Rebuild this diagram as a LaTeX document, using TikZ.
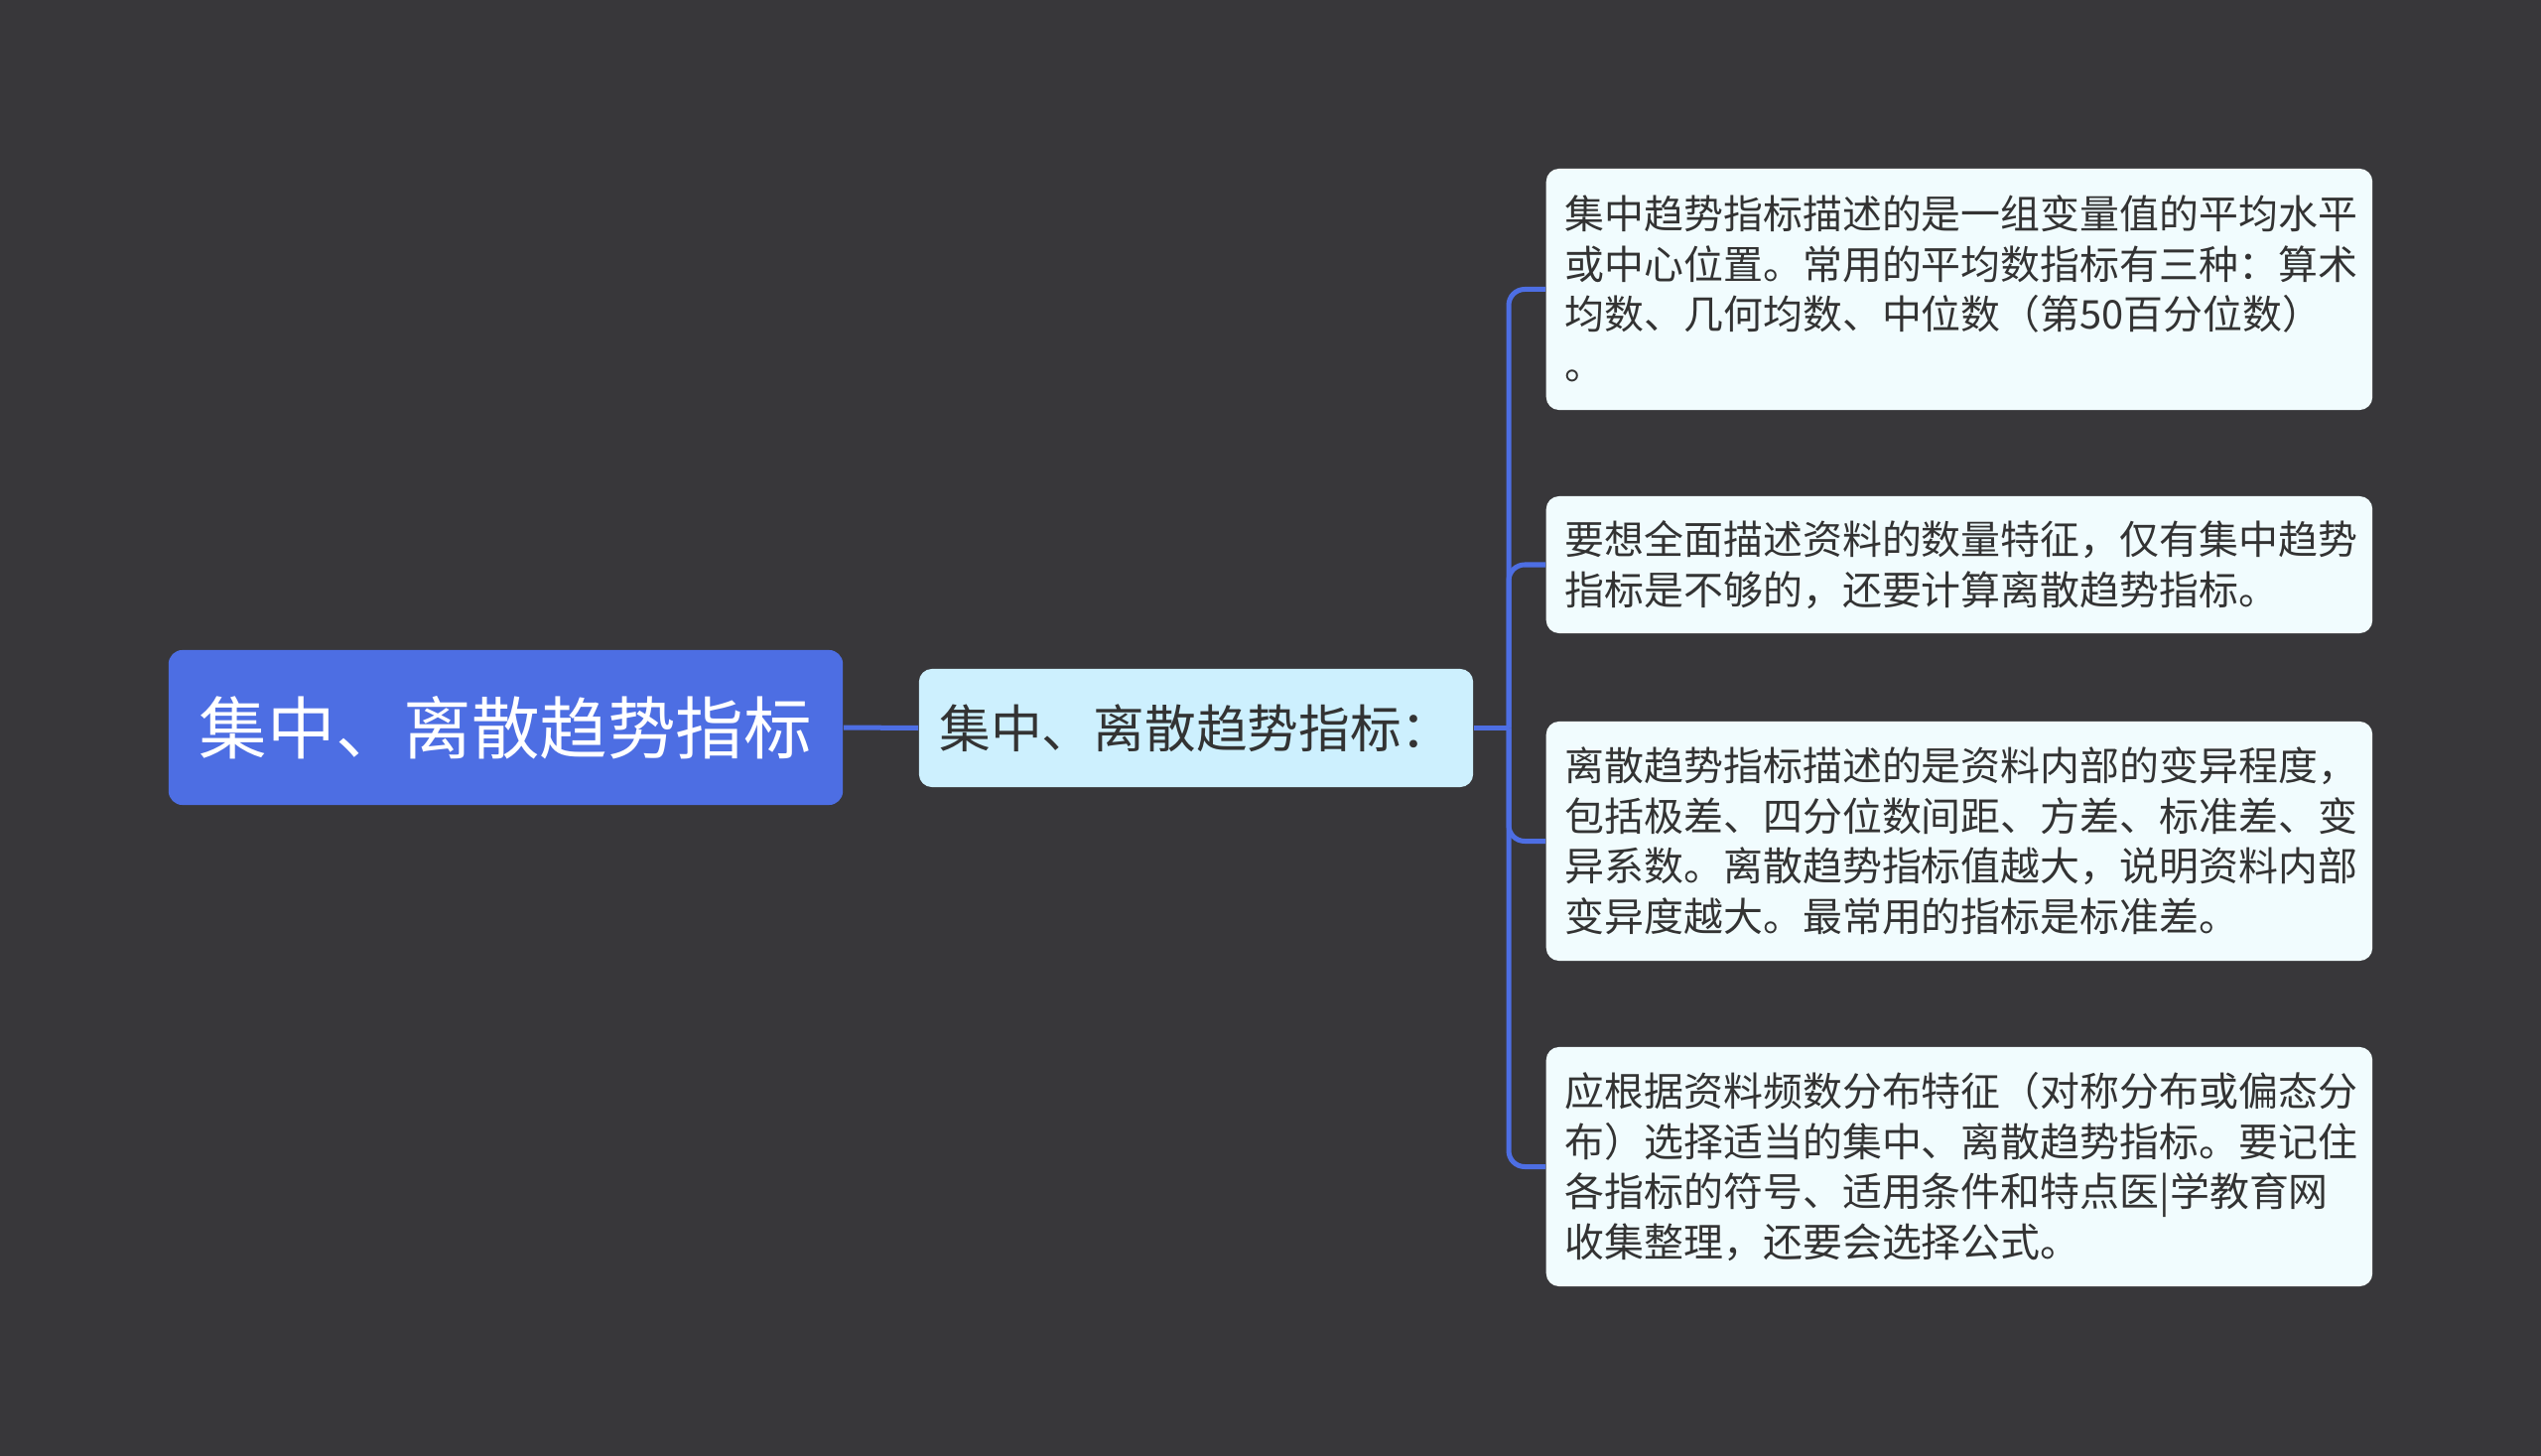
\documentclass[tikz,border=0pt]{standalone}
\usepackage{fontspec}
\setmainfont{Noto Sans CJK SC}
\definecolor{bgc}{HTML}{38373A}
\definecolor{rootblue}{HTML}{4D6EE3}
\definecolor{midfill}{HTML}{CDF0FE}
\definecolor{leaffill}{HTML}{F1FCFE}
\definecolor{linec}{HTML}{4D6EE3}
\definecolor{txt}{HTML}{333333}
\newcommand{\lst}{\rule[-0.12em]{0pt}{1em}}
\begin{document}
\begin{tikzpicture}[x=0.01cm,y=-0.01cm,
  rootbox/.style={fill=rootblue, text=white, rounded corners=0.14cm, inner sep=0pt,
    minimum width=6.79cm, minimum height=1.56cm, font=\fontsize{19.5pt}{23pt}\selectfont},
  midbox/.style={fill=midfill, text=txt, rounded corners=0.13cm, inner sep=0pt,
    minimum width=5.58cm, minimum height=1.19cm, font=\fontsize{14.7pt}{17pt}\selectfont},
  leafbox/.style={fill=leaffill, text=txt, rounded corners=0.13cm, inner xsep=0.19cm, inner ysep=0pt,
    text width=7.94cm, align=left, anchor=west, font=\fontsize{11.35pt}{14.4pt}\selectfont},
  conn/.style={draw=linec, line width=0.05cm},
  branch/.style={conn, rounded corners=0.16cm}]
\useasboundingbox (0,0) rectangle (2560,1467);
\fill[bgc] (0,0) rectangle (2560,1467);

\node[rootbox] (root) at (509.5,733) {集中、离散趋势指标};
\node[midbox] (mid) at (1205,733.5) {集中、离散趋势指标：};

\node[leafbox, minimum height=2.43cm] (leafA) at (1557,291.5)
  {\lst 集中趋势指标描述的是一组变量值的平均水平\\
   \lst 或中心位置。常用的平均数指标有三种：算术\\
   \lst 均数、几何均数、中位数（第50百分位数）\\
   \lst 。};
\node[leafbox, minimum height=1.38cm] (leafB) at (1557,569)
  {\lst 要想全面描述资料的数量特征，仅有集中趋势\\
   \lst 指标是不够的，还要计算离散趋势指标。};
\node[leafbox, minimum height=2.41cm] (leafC) at (1557,847.5)
  {\lst 离散趋势指标描述的是资料内部的变异程度，\\
   \lst 包括极差、四分位数间距、方差、标准差、变\\
   \lst 异系数。离散趋势指标值越大，说明资料内部\\
   \lst 变异度越大。最常用的指标是标准差。};
\node[leafbox, minimum height=2.41cm] (leafD) at (1557,1175.5)
  {\lst 应根据资料频数分布特征（对称分布或偏态分\\
   \lst 布）选择适当的集中、离散趋势指标。要记住\\
   \lst 各指标的符号、适用条件和特点医|学教育网\\
   \lst 收集整理，还要会选择公式。};

\coordinate (fork) at (1520,733.5);
\draw[conn] (root.east) -- (mid.west);
\draw[conn] (mid.east) -- (fork);
\draw[branch] (fork) |- (leafA.west);
\draw[branch] (fork) |- (leafB.west);
\draw[branch] (fork) |- (leafC.west);
\draw[branch] (fork) |- (leafD.west);
\end{tikzpicture}
\end{document}
